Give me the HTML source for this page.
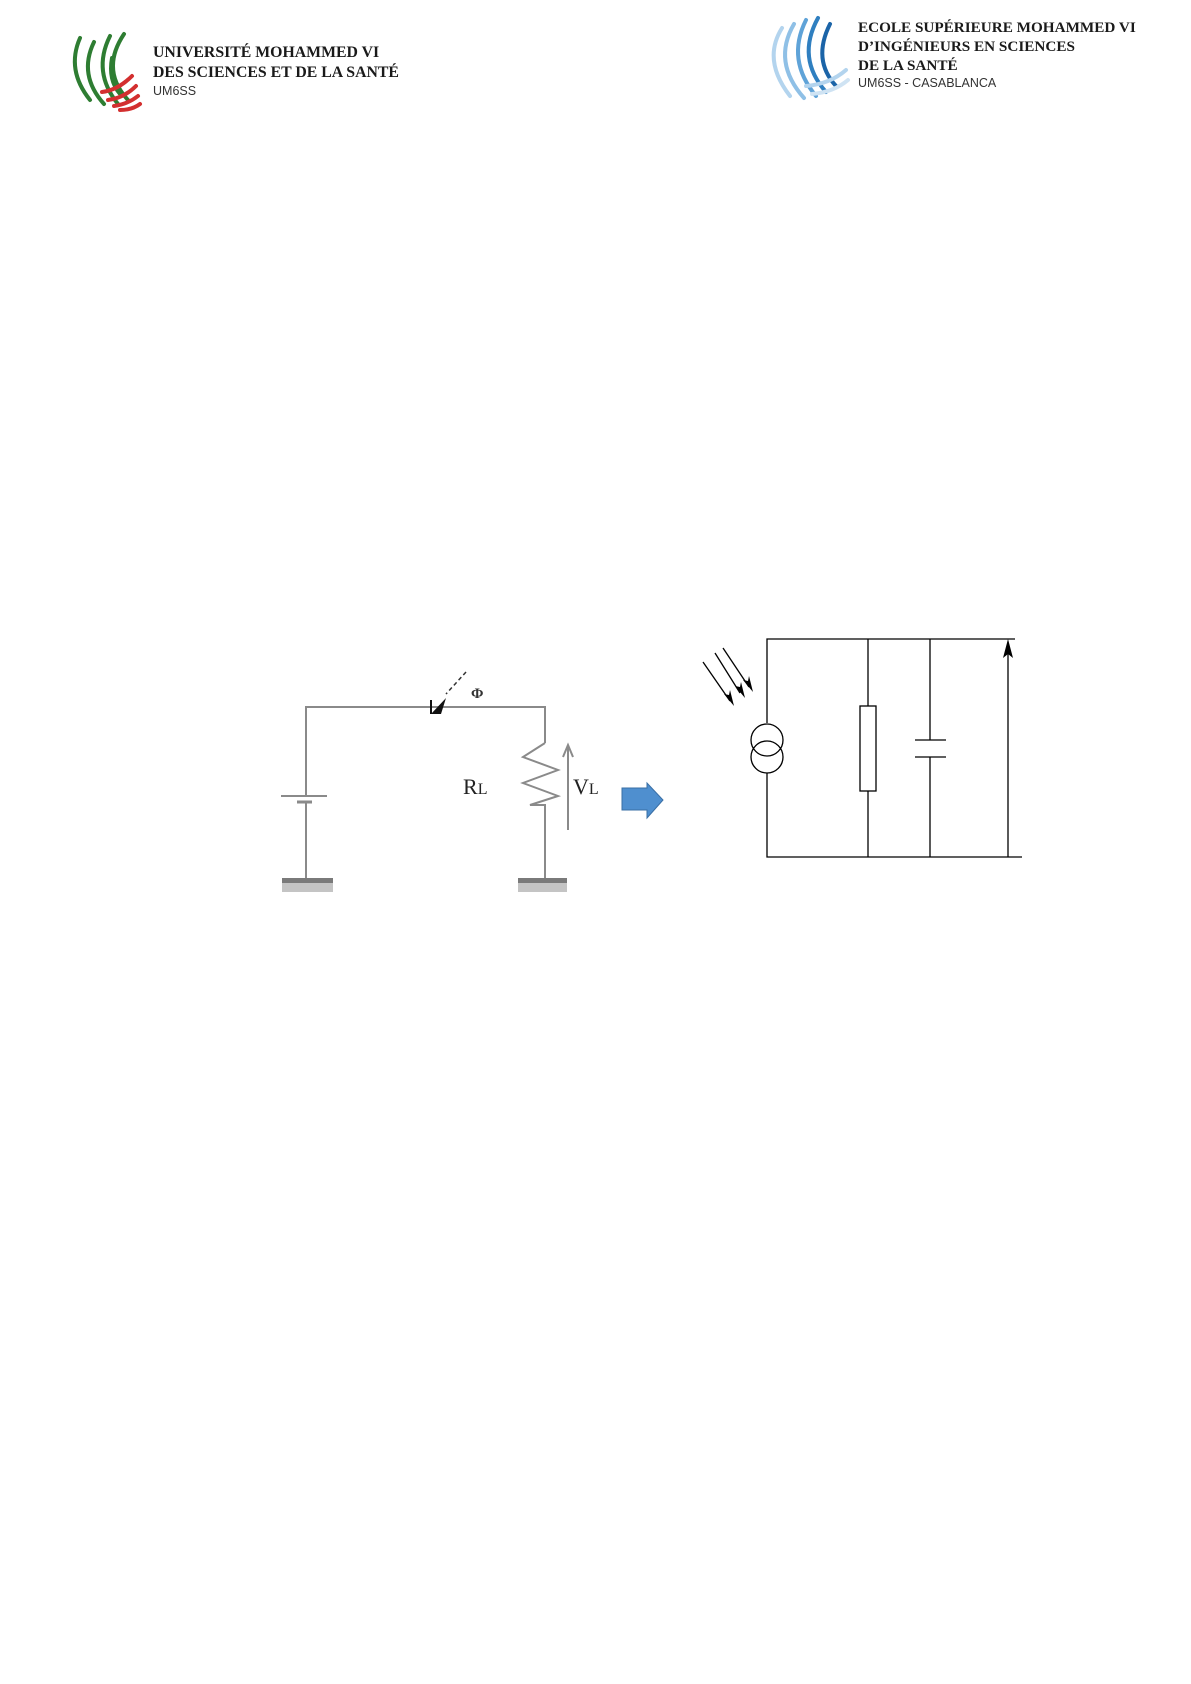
<!DOCTYPE html>
<html><head><meta charset="utf-8"><style>
body{margin:0;background:#fff;}
.p{position:relative;width:1191px;height:1684px;overflow:hidden;background:#fff;}
.t{position:absolute;font-family:"Liberation Serif",serif;font-weight:bold;font-size:15.8px;color:#1a1a1a;white-space:nowrap;line-height:1;}
.r{font-size:15.2px;}
.s{position:absolute;font-family:"Liberation Sans",sans-serif;font-size:12.5px;color:#333;white-space:nowrap;line-height:1;}
svg{position:absolute;left:0;top:0;}
</style></head><body><div class="p">
<svg width="1191" height="1684" viewBox="0 0 1191 1684">
<g fill="none" stroke-width="4" stroke-linecap="round">
<path d="M80 38 Q66 70 90 100" stroke="#2e7d32"/>
<path d="M94 42 Q78 75 104 104" stroke="#2e7d32"/>
<path d="M110 36 Q92 72 118 104" stroke="#2e7d32"/>
<path d="M124 34 Q100 70 128 100" stroke="#2e7d32"/>
<path d="M112 58 Q108 80 120 94" stroke="#2e7d32"/>
<path d="M102 92 Q118 90 132 76" stroke="#d32f2f"/>
<path d="M108 100 Q124 98 136 86" stroke="#d32f2f"/>
<path d="M114 106 Q128 104 138 96" stroke="#d32f2f"/>
<path d="M120 110 Q132 110 140 104" stroke="#d32f2f"/>
</g>
<g fill="none" stroke-width="4" stroke-linecap="round">
<path d="M782 28 Q762 60 790 96" stroke="#b3d4ee"/>
<path d="M794 24 Q772 62 804 98" stroke="#8fc0e6"/>
<path d="M806 20 Q786 60 816 96" stroke="#5fa3d8"/>
<path d="M818 18 Q796 58 826 92" stroke="#2f7fc0"/>
<path d="M830 24 Q812 60 836 86" stroke="#1b64a8"/>
<path d="M806 86 Q830 84 846 70" stroke="#b3d4ee"/>
<path d="M812 94 Q834 92 848 80" stroke="#cfe3f3"/>
</g>
<g stroke="#8a8a8a" stroke-width="2" fill="none">
<polyline points="306,878 306,802"/>
<polyline points="306,796 306,707 545,707 545,743"/>
<polyline points="545,743 523,757 558,770 523,783 558,796 530,805 545,805 545,878"/>
<line x1="281" y1="796" x2="327" y2="796"/>
<line x1="568" y1="830" x2="568" y2="747"/>
<polyline points="563,757 568,745 573,757"/>
</g>
<line x1="297" y1="802" x2="312" y2="802" stroke="#8a8a8a" stroke-width="3"/>
<rect x="282" y="878" width="51" height="5" fill="#7a7a7a"/>
<rect x="282" y="883" width="51" height="9" fill="#c4c4c4"/>
<rect x="518" y="878" width="49" height="5" fill="#7a7a7a"/>
<rect x="518" y="883" width="49" height="9" fill="#c4c4c4"/>
<polygon points="431,714 446,698 441,714" fill="#111"/>
<line x1="431" y1="700" x2="431" y2="714" stroke="#111" stroke-width="2"/>
<line x1="466" y1="672" x2="446" y2="694" stroke="#333" stroke-width="1.5" stroke-dasharray="4,3"/>
<text x="471" y="698" font-family="Liberation Serif,serif" font-size="15" font-weight="bold" fill="#333">Φ</text>
<text x="463" y="794" font-family="Liberation Serif,serif" font-size="22" fill="#222">R<tspan font-size="16">L</tspan></text>
<text x="573" y="794" font-family="Liberation Serif,serif" font-size="22" fill="#222">V<tspan font-size="16">L</tspan></text>
<polygon points="622,788 647,788 647,783 663,800 647,818 647,810 622,810" fill="#4f8fcf" stroke="#3a6fa5" stroke-width="1"/>
<g stroke="#000" stroke-width="1.3" fill="none">
<polyline points="767,723 767,639 1015,639"/>
<polyline points="767,773 767,857 1022,857"/>
<circle cx="767" cy="740" r="16"/>
<circle cx="767" cy="757" r="16"/>
<line x1="868" y1="639" x2="868" y2="706"/>
<rect x="860" y="706" width="16" height="85"/>
<line x1="868" y1="791" x2="868" y2="857"/>
<line x1="930" y1="639" x2="930" y2="740"/>
<line x1="915" y1="740" x2="946" y2="740"/>
<line x1="915" y1="757" x2="946" y2="757"/>
<line x1="930" y1="757" x2="930" y2="857"/>
<line x1="1008" y1="857" x2="1008" y2="650"/>
<line x1="703" y1="662" x2="730" y2="701"/>
<line x1="715" y1="653" x2="740" y2="693"/>
<line x1="723" y1="648" x2="749" y2="687"/>
</g>
<polygon points="1008,639 1003,658 1008,654 1013,658"/>
<polygon points="734,706 724,694 729,695 730,690"/>
<polygon points="745,698 735,686 740,687 741,682"/>
<polygon points="753,692 743,680 748,681 749,676"/>
</svg>
<div class="t" style="left:153px;top:45px;">UNIVERSITÉ MOHAMMED VI</div>
<div class="t" style="left:153px;top:65px;">DES SCIENCES ET DE LA SANTÉ</div>
<div class="s" style="left:153px;top:85px;">UM6SS</div>
<div class="t r" style="left:858px;top:20px;">ECOLE SUPÉRIEURE MOHAMMED VI</div>
<div class="t r" style="left:858px;top:39px;">D’INGÉNIEURS EN SCIENCES</div>
<div class="t r" style="left:858px;top:58px;">DE LA SANTÉ</div>
<div class="s" style="left:858px;top:77px;">UM6SS - CASABLANCA</div>
</div></body></html>
